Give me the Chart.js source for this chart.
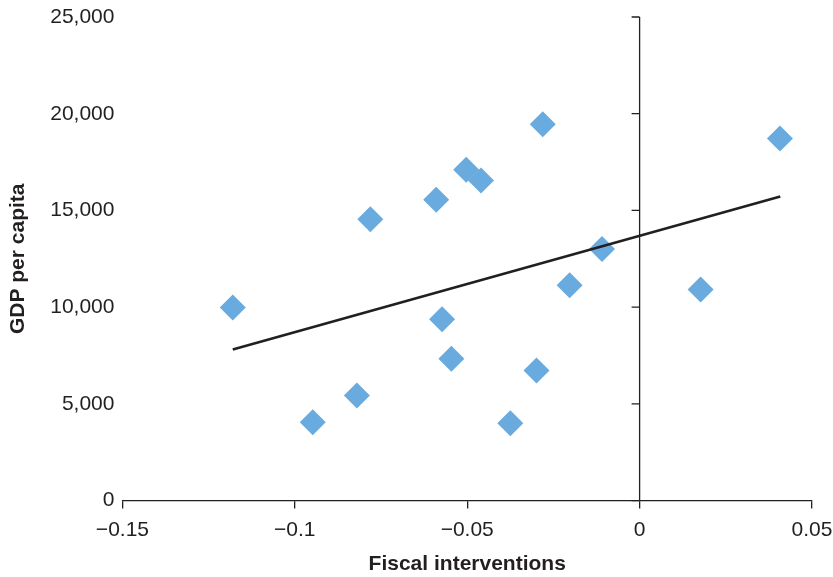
<!DOCTYPE html>
<html>
<head>
<meta charset="utf-8">
<script src="https://cdn.jsdelivr.net/npm/chart.js@4.4.1/dist/chart.umd.min.js"></script>
<style>
  html, body { margin: 0; padding: 0; background: #fff; }
  #wrap { width: 833px; height: 577px; position: relative; }
</style>
</head>
<body>
<div id="wrap"><canvas id="chartScatter"></canvas></div>
<script>
// fiscal interventions (x) vs GDP per capita (y)
const fiscal = [-0.118, -0.0948, -0.082, -0.0781, -0.059, -0.0573, -0.0546, -0.0503,
                -0.046, -0.0375, -0.0299, -0.0281, -0.0203, -0.0109, 0.0177, 0.0407];
const gdp = [9980, 4050, 5430, 14550, 15550, 9370, 7330, 17100,
             16550, 4000, 6720, 19460, 11130, 13010, 10910, 18720];

// linear trend, start and end
const trendX = [-0.118, 0.0408];
const trendY = [7810, 15720];

const xTicks = [-0.15, -0.1, -0.05, 0, 0.05];
const yTicks = [0, 5000, 10000, 15000, 20000, 25000];

const ink = '#231f20';
const fontFamily = '"Liberation Sans", Arial, Helvetica, sans-serif';

// the vertical axis sits at x = 0, ticks pointing left
const zeroAxis = {
    id: 'zeroAxis',
    beforeDatasetsDraw(chart) {
        const xs = chart.scales.x, ys = chart.scales.y;
        const ctx = chart.ctx;
        const x0 = xs.getPixelForValue(0);
        ctx.save();
        ctx.strokeStyle = ink;
        ctx.lineWidth = 1.3;
        ctx.beginPath();
        ctx.moveTo(x0, ys.getPixelForValue(yTicks[0]));
        ctx.lineTo(x0, ys.getPixelForValue(yTicks[yTicks.length - 1]));
        yTicks.forEach(v => {
            const y = ys.getPixelForValue(v);
            ctx.moveTo(x0 - 8, y);
            ctx.lineTo(x0, y);
        });
        ctx.stroke();
        ctx.restore();
    }
};

const fmtX = v => {
    const r = Math.round(v * 100) / 100;
    if (r === 0) return '0';
    return String(r).replace('-', '\u2212');
};

new Chart(document.getElementById('chartScatter'), {
    type: 'scatter',
    data: {
        datasets: [{
            label: 'Countries',
            data: fiscal.map((x, i) => ({ x: x, y: gdp[i] })),
            pointStyle: 'rectRot',
            pointRadius: 13,
            pointHoverRadius: 13,
            backgroundColor: '#6aabdf',
            borderWidth: 0,
            order: 1
        }, {
            type: 'line',
            label: 'Trend',
            data: trendX.map((x, i) => ({ x: x, y: trendY[i] })),
            borderColor: ink,
            borderWidth: 2.6,
            pointRadius: 0,
            fill: false,
            order: 0
        }]
    },
    options: {
        responsive: true,
        maintainAspectRatio: false,
        animation: false,
        events: [],
        layout: { padding: 0 },
        plugins: {
            legend: { display: false },
            tooltip: { enabled: false }
        },
        scales: {
            x: {
                type: 'linear',
                min: -0.15,
                max: 0.05,
                afterBuildTicks: s => { s.ticks = xTicks.map(v => ({ value: v })); },
                afterFit: s => { s.paddingRight = 21; },
                border: { display: true, color: ink, width: 1.3 },
                grid: {
                    drawOnChartArea: false,
                    drawTicks: true,
                    tickLength: 8,
                    color: ink,
                    lineWidth: 1.3
                },
                ticks: {
                    callback: v => fmtX(v),
                    color: ink,
                    padding: 9,
                    maxRotation: 0,
                    font: { family: fontFamily, size: 21 }
                },
                title: {
                    display: true,
                    text: 'Fiscal interventions',
                    color: ink,
                    padding: { top: 0, bottom: 0 },
                    font: { family: fontFamily, size: 21, weight: 'bold' }
                }
            },
            y: {
                type: 'linear',
                min: 0,
                max: 25000,
                afterBuildTicks: s => { s.ticks = yTicks.map(v => ({ value: v })); },
                afterFit: s => { s.paddingTop = 17; },
                border: { display: false },
                grid: { display: false, drawTicks: false },
                ticks: {
                    callback: v => v.toLocaleString('en-US'),
                    color: ink,
                    padding: 8,
                    font: { family: fontFamily, size: 21 }
                },
                title: {
                    display: true,
                    text: 'GDP per capita',
                    color: ink,
                    padding: { top: 6, bottom: 11 },
                    font: { family: fontFamily, size: 21, weight: 'bold' }
                }
            }
        }
    },
    plugins: [zeroAxis]
});
</script>
</body>
</html>
